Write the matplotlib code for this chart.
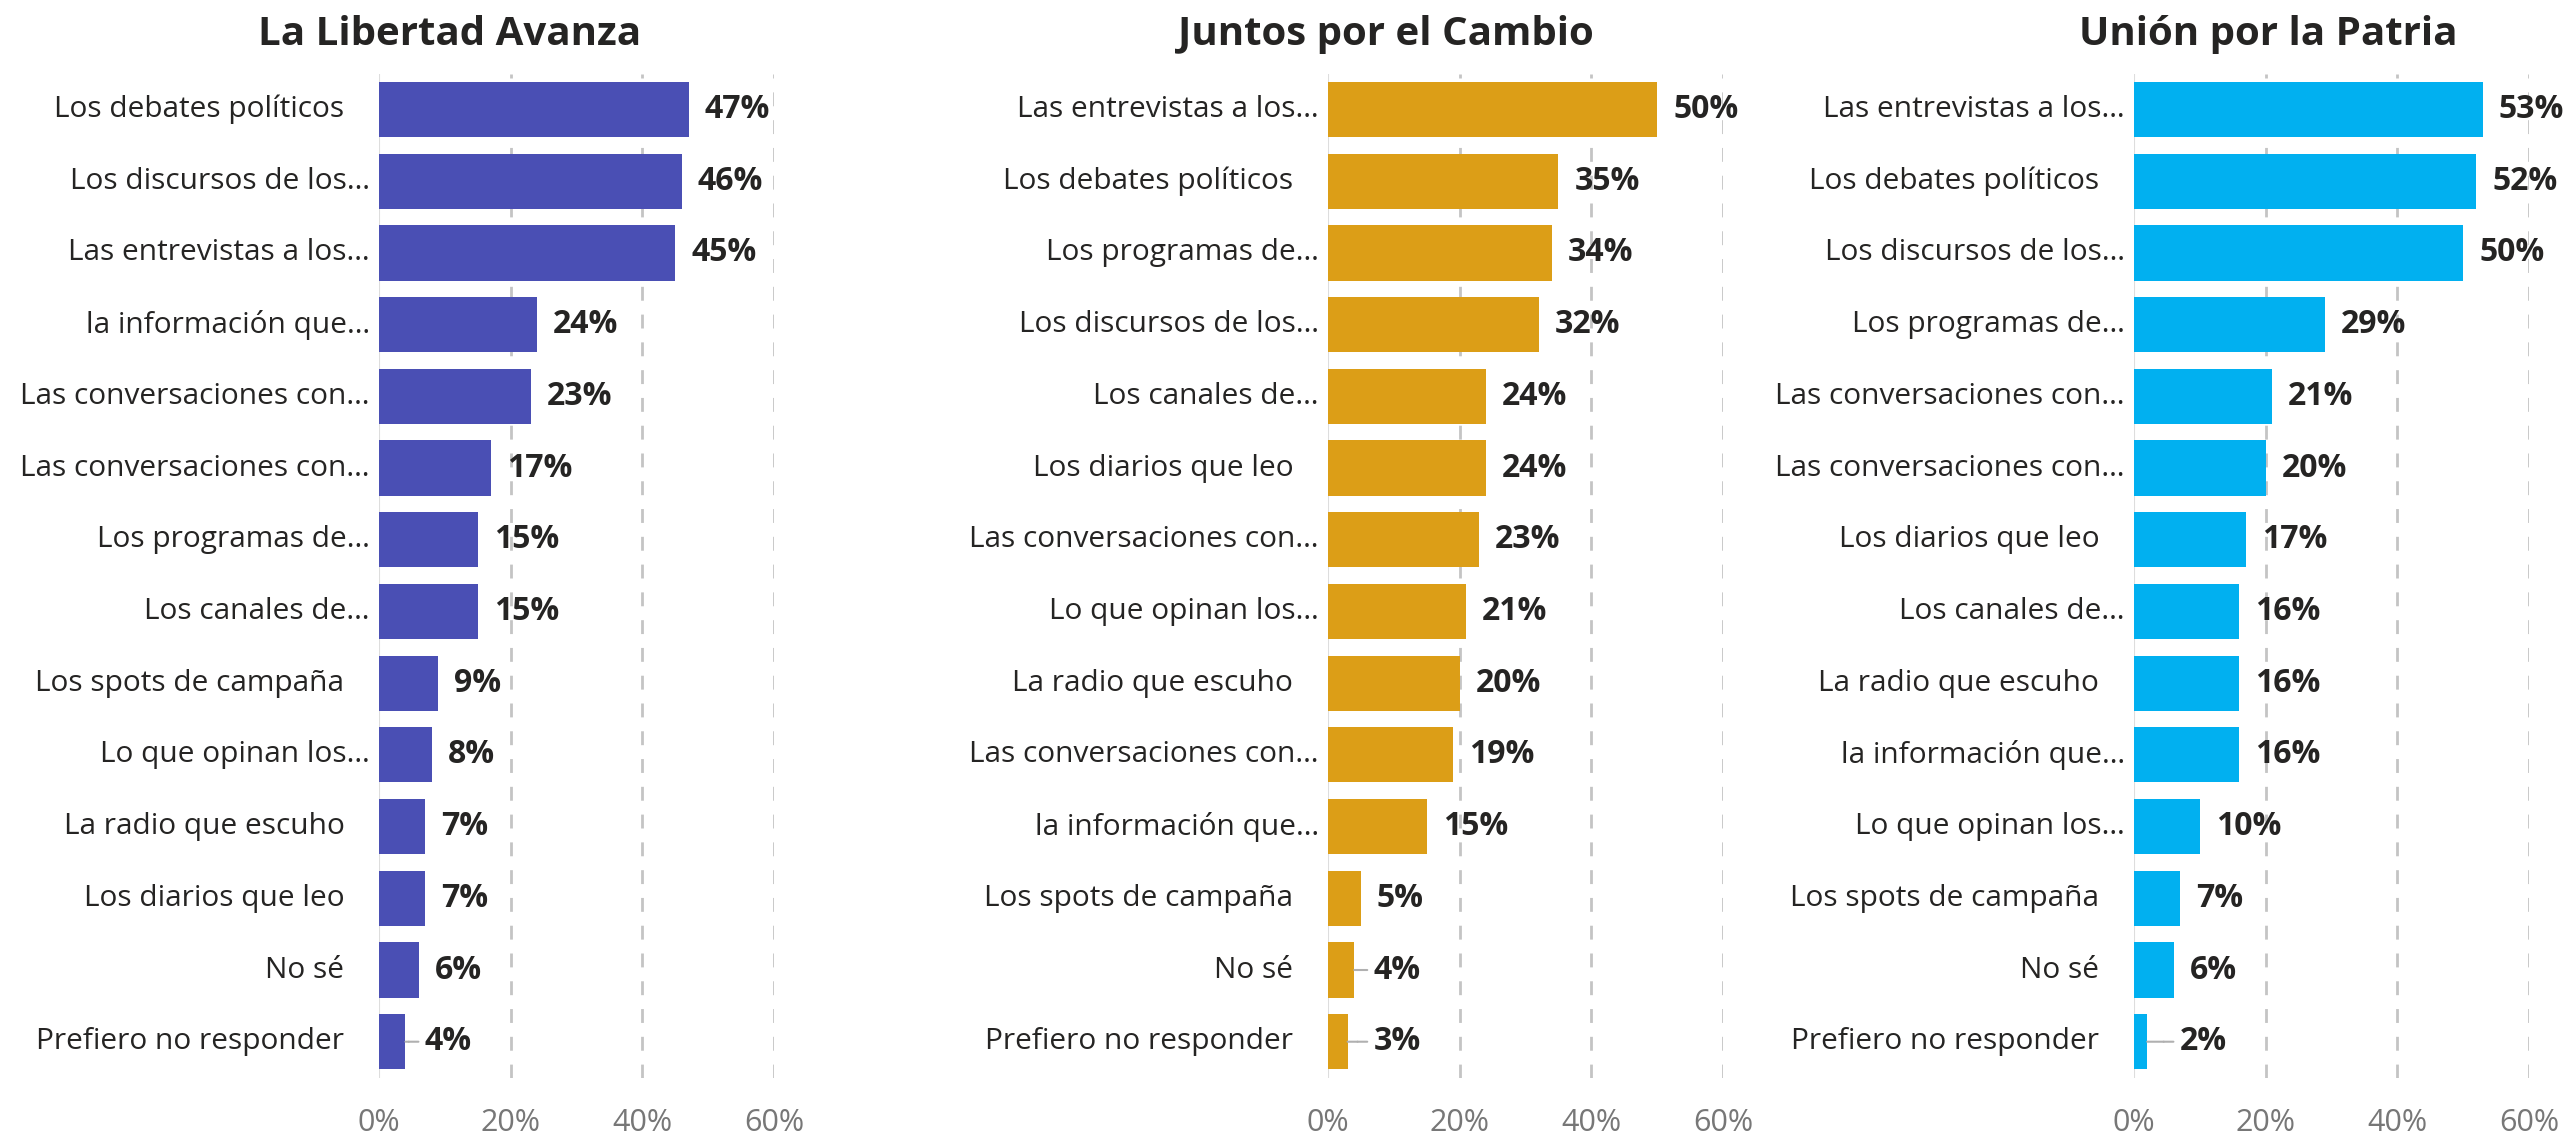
import matplotlib
matplotlib.use("Agg")
import matplotlib.pyplot as plt

plt.rcParams['font.family'] = ['Open Sans', 'DejaVu Sans']

TEXT_COLOR = "#252423"
TICK_COLOR = "#777777"

# La Libertad Avanza
lla_labels = ["Los debates políticos", "Los discursos de los…", "Las entrevistas a los…",
              "la información que…", "Las conversaciones con…", "Las conversaciones con…",
              "Los programas de…", "Los canales de…", "Los spots de campaña",
              "Lo que opinan los…", "La radio que escuho", "Los diarios que leo",
              "No sé", "Prefiero no responder"]
lla_values = [47, 46, 45, 24, 23, 17, 15, 15, 9, 8, 7, 7, 6, 4]

# Juntos por el Cambio
jxc_labels = ["Las entrevistas a los…", "Los debates políticos", "Los programas de…",
              "Los discursos de los…", "Los canales de…", "Los diarios que leo",
              "Las conversaciones con…", "Lo que opinan los…", "La radio que escuho",
              "Las conversaciones con…", "la información que…", "Los spots de campaña",
              "No sé", "Prefiero no responder"]
jxc_values = [50, 35, 34, 32, 24, 24, 23, 21, 20, 19, 15, 5, 4, 3]

# Unión por la Patria
uxp_labels = ["Las entrevistas a los…", "Los debates políticos", "Los discursos de los…",
              "Los programas de…", "Las conversaciones con…", "Las conversaciones con…",
              "Los diarios que leo", "Los canales de…", "La radio que escuho",
              "la información que…", "Lo que opinan los…", "Los spots de campaña",
              "No sé", "Prefiero no responder"]
uxp_values = [53, 52, 50, 29, 21, 20, 17, 16, 16, 16, 10, 7, 6, 2]

titles = ["La Libertad Avanza", "Juntos por el Cambio", "Unión por la Patria"]
colors = ["#4A4FB4", "#DC9E17", "#01B0F0"]
ticks = [0, 20, 40, 60]
tick_labels = ["0%", "20%", "40%", "60%"]

panels = [(lla_labels, lla_values), (jxc_labels, jxc_values), (uxp_labels, uxp_values)]
lefts = [0.1478, 0.5177, 0.8320]
title_x = [0.1754, 0.5404, 0.8842]
width = 0.1540
min_label_x = 4.5

fig = plt.figure(figsize=(25.65, 11.38), dpi=100)

for i, (labels, values) in enumerate(panels):
    ax = fig.add_axes([lefts[i], 0.0531, width, 0.8822])
    y = list(range(len(values)))
    ax.barh(y, values, height=0.77, color=colors[i], zorder=3)
    ax.set_xlim(0, 60)
    ax.set_ylim(len(values) - 0.5, -0.5)

    # value labels, tiny bars get a short gray leader line
    for v, yy in zip(values, y):
        lx = max(v, min_label_x)
        if v < min_label_x:
            ax.annotate("", xy=(v, yy), xytext=(lx, yy),
                        arrowprops=dict(arrowstyle="-", color="#b0b0b0", lw=1.5,
                                        shrinkA=0, shrinkB=0))
            ax.annotate("", xy=(lx, yy), xytext=(7, 0), textcoords="offset points",
                        arrowprops=dict(arrowstyle="-", color="#b0b0b0", lw=1.5,
                                        shrinkA=0, shrinkB=0))
        ax.annotate(f"{v}%", (lx, yy), xytext=(11.5, 0), textcoords="offset points",
                    ha="left", va="center", fontsize=23, fontweight="bold",
                    color=TEXT_COLOR, zorder=4)

    # category labels: truncated ones sit closer to the axis
    ax.set_yticks(y)
    ax.set_yticklabels([])
    ax.tick_params(axis="y", length=0)
    for lab, yy in zip(labels, y):
        pad = 6.5 if lab.endswith("…") else 25
        ax.annotate(lab, (0, yy), xytext=(-pad, 0), textcoords="offset points",
                    ha="right", va="center", fontsize=21.5, color=TEXT_COLOR,
                    annotation_clip=False)

    ax.set_xticks(ticks)
    ax.set_xticklabels(tick_labels, fontsize=22, color=TICK_COLOR)
    ax.tick_params(axis="x", length=0, pad=22)

    for s in ["top", "right", "bottom", "left"]:
        ax.spines[s].set_visible(False)
    ax.axvline(0, color="#dddddd", lw=1.5, zorder=1)
    for t in ticks[1:]:
        ax.axvline(t, color="#c4c4c4", lw=2, ls=(0, (5, 5)), zorder=1)

    fig.text(title_x[i], 1 - 45 / 1138, titles[i], ha="center", va="baseline",
             fontsize=29, fontweight="bold", color=TEXT_COLOR)

fig.savefig("out.png", dpi=100)
